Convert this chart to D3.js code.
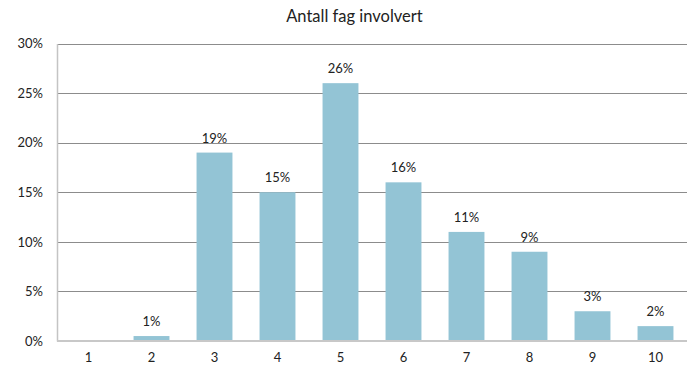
<!DOCTYPE html>
<html>
<head>
<meta charset="utf-8">
<script src="https://cdn.jsdelivr.net/npm/d3@7"></script>
<style>
  html, body { margin: 0; padding: 0; background: #fff; }
  svg { display: block; font-family: Lato, "Open Sans", sans-serif; }
</style>
</head>
<body>
<svg id="chart" width="697" height="369"></svg>
<script>
// Number of subjects involved (1–10) and share of responses
const categories = ["1", "2", "3", "4", "5", "6", "7", "8", "9", "10"];
const shares = [0, 0.005, 0.19, 0.15, 0.26, 0.16, 0.11, 0.09, 0.03, 0.015];
const yTicks = [0, 0.05, 0.10, 0.15, 0.20, 0.25, 0.30];
const title = "Antall fag involvert";

const svg = d3.select("#chart");
const margin = { left: 57, right: 10, top: 43.5, bottom: 28 };
const W = 697, H = 369;

const x = d3.scaleBand()
  .domain(categories)
  .range([margin.left, W - margin.right])
  .paddingInner(0.43)
  .paddingOuter(0.215);

const y = d3.scaleLinear()
  .domain([0, 0.30])
  .range([H - margin.bottom, margin.top]);

const pct = d3.format(".0%");

// horizontal gridlines
svg.append("g")
  .selectAll("line")
  .data(yTicks.filter(d => d > 0))
  .join("line")
  .attr("x1", margin.left)
  .attr("x2", W - margin.right)
  .attr("y1", d => Math.round(y(d)) + 0.5)
  .attr("y2", d => Math.round(y(d)) + 0.5)
  .attr("stroke", "#8c8c8c")
  .attr("stroke-width", 1);

// y axis
const yAxis = svg.append("g")
  .attr("transform", `translate(${margin.left},0)`)
  .call(d3.axisLeft(y).tickValues(yTicks).tickFormat(pct).tickSize(0).tickPadding(14));
yAxis.select(".domain").attr("stroke", "#c4c4c4").attr("stroke-width", 1.5);
yAxis.selectAll("text").attr("font-size", 13).attr("fill", "#222").attr("font-family", "Lato, sans-serif");

// bars
svg.append("g")
  .selectAll("rect")
  .data(categories.map((c, i) => ({ c, v: shares[i] })))
  .join("rect")
  .attr("x", d => x(d.c))
  .attr("width", x.bandwidth())
  .attr("y", d => y(d.v))
  .attr("height", d => y(0) - y(d.v))
  .attr("fill", "#93c4d5");

// value labels (bar 1 has no label)
svg.append("g")
  .selectAll("text")
  .data(categories.map((c, i) => ({ c, v: shares[i] })).filter(d => d.v > 0))
  .join("text")
  .attr("x", d => x(d.c) + x.bandwidth() / 2)
  .attr("y", d => y(d.v) - 10)
  .attr("text-anchor", "middle")
  .attr("font-size", 13)
  .attr("fill", "#222")
  .text(d => pct(d.v));

// x axis
const xAxis = svg.append("g")
  .attr("transform", `translate(0,${y(0)})`)
  .call(d3.axisBottom(x).tickSize(0).tickPadding(12));
xAxis.select(".domain").attr("stroke", "#c8c8c8").attr("stroke-width", 2)
  .attr("d", `M${margin.left},0H${W - margin.right}`);
xAxis.selectAll("text").attr("font-size", 13).attr("fill", "#222").attr("font-family", "Lato, sans-serif");

// title
svg.append("text")
  .attr("x", 354.5)
  .attr("y", 22)
  .attr("text-anchor", "middle")
  .attr("font-size", 16.5)
  .attr("fill", "#222")
  .text(title);
</script>
</body>
</html>
